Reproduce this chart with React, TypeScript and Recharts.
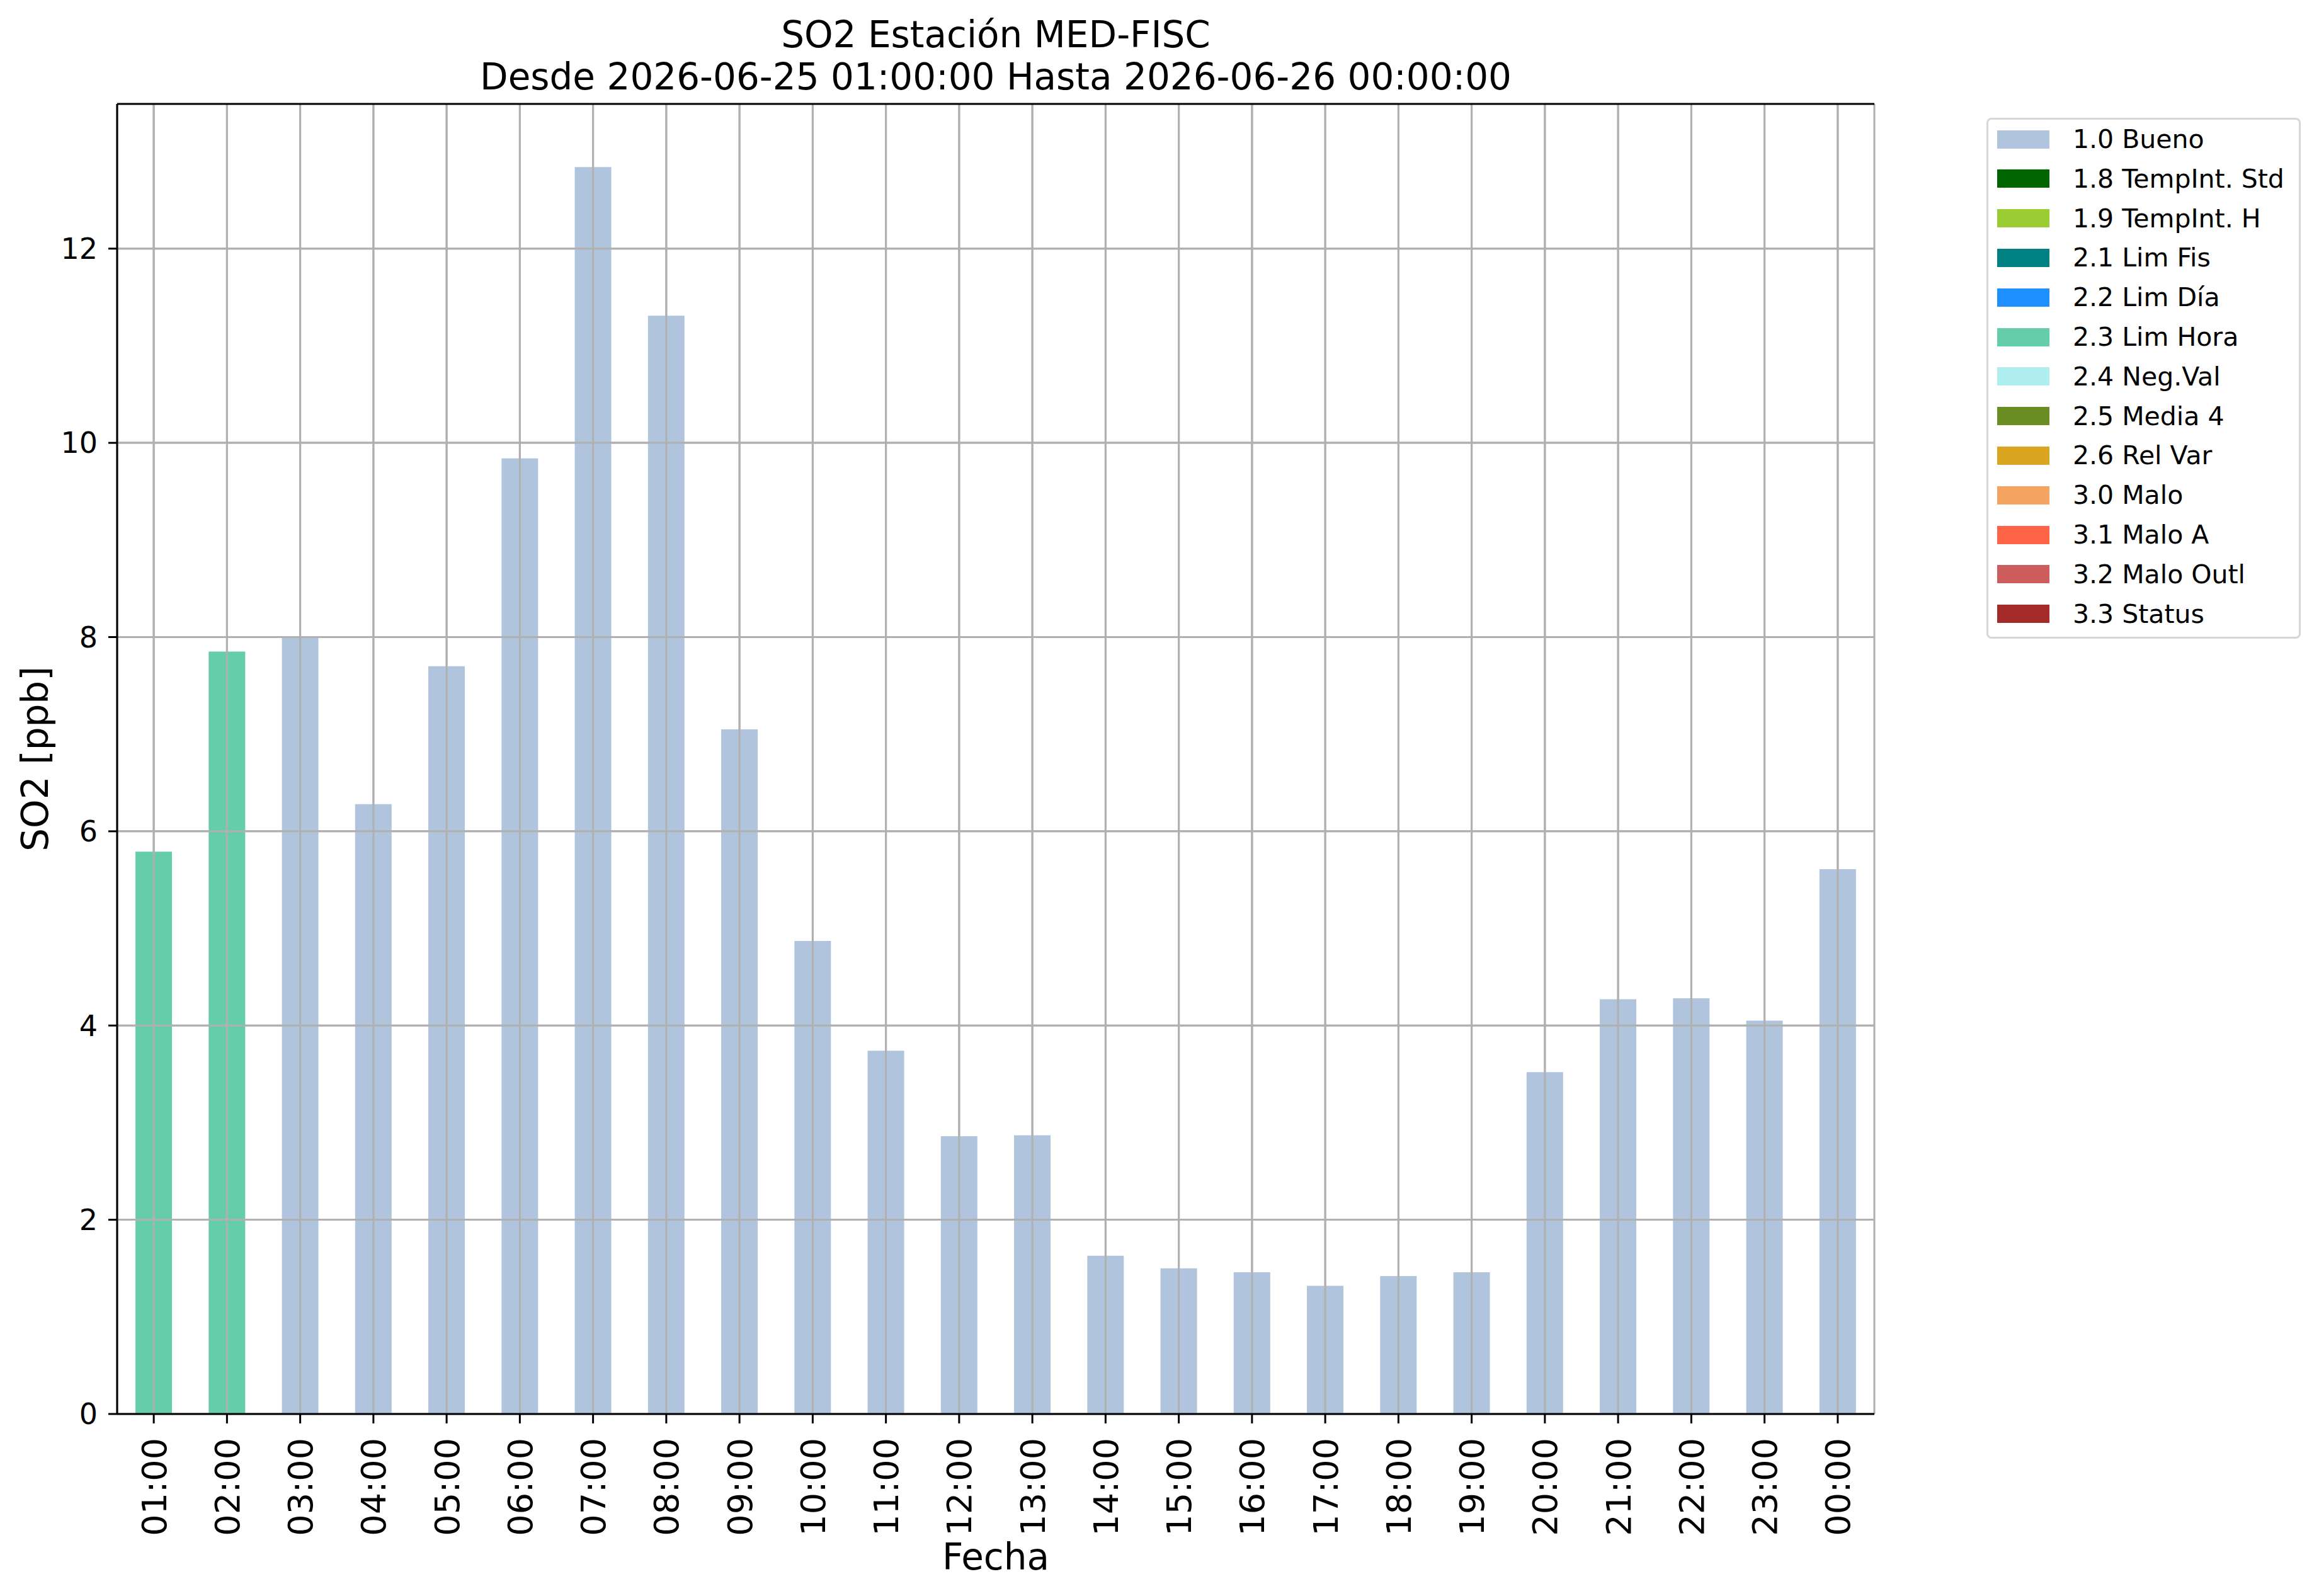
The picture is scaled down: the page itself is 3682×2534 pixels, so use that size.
import { Bar, BarChart, CartesianGrid, Legend, ReferenceLine, XAxis, YAxis } from 'recharts';

const HOURS = [
  '01:00', '02:00', '03:00', '04:00', '05:00', '06:00', '07:00', '08:00',
  '09:00', '10:00', '11:00', '12:00', '13:00', '14:00', '15:00', '16:00',
  '17:00', '18:00', '19:00', '20:00', '21:00', '22:00', '23:00', '00:00',
];

const SO2_PPB = [
  5.79, 7.85, 8.0, 6.28, 7.7, 9.84, 12.84, 11.31,
  7.05, 4.87, 3.74, 2.86, 2.87, 1.63, 1.5, 1.46,
  1.32, 1.42, 1.46, 3.52, 4.27, 4.28, 4.05, 5.61,
];

// quality flag of each hour
const HOUR_FLAGS = [
  '2.3', '2.3', '1.0', '1.0', '1.0', '1.0', '1.0', '1.0',
  '1.0', '1.0', '1.0', '1.0', '1.0', '1.0', '1.0', '1.0',
  '1.0', '1.0', '1.0', '1.0', '1.0', '1.0', '1.0', '1.0',
];

const FLAG_CODES = ['1.0', '1.8', '1.9', '2.1', '2.2', '2.3', '2.4', '2.5', '2.6', '3.0', '3.1', '3.2', '3.3'];
const FLAG_NAMES = [
  '1.0 Bueno', '1.8 TempInt. Std', '1.9 TempInt. H', '2.1 Lim Fis', '2.2 Lim Día',
  '2.3 Lim Hora', '2.4 Neg.Val', '2.5 Media 4', '2.6 Rel Var', '3.0 Malo',
  '3.1 Malo A', '3.2 Malo Outl', '3.3 Status',
];
const FLAG_COLORS = [
  '#b0c4de', '#006400', '#9acd32', '#008080', '#1e90ff', '#66cdaa', '#afeeee',
  '#6b8e23', '#daa520', '#f4a460', '#ff6347', '#cd5c5c', '#a52a2a',
];

const Y_TICKS = [0, 2, 4, 6, 8, 10, 12];
const Y_MAX = 13.49;

const data = HOURS.map((hour, i) => ({
  hour,
  [HOUR_FLAGS[i]]: SO2_PPB[i],
}));

const FONT = '"DejaVu Sans", sans-serif';
const GRID = '#b0b0b0';

function HourTick(props: any) {
  const { x, y, payload } = props;
  const ty = y + 23;
  return (
    <text
      x={x}
      y={ty}
      transform={`rotate(-90, ${x}, ${ty})`}
      textAnchor="end"
      dy="0.36em"
      fontSize={54}
      fontFamily={FONT}
      fill="#000"
    >
      {payload.value}
    </text>
  );
}

function FlagLegend(props: any) {
  const items = props.payload || [];
  return (
    <div
      style={{
        width: 499,
        height: 827,
        boxSizing: 'border-box',
        border: '3px solid #d6d6d6',
        borderRadius: 8,
        background: '#fff',
        position: 'relative',
        fontFamily: FONT,
      }}
    >
      {items.map((item: any, i: number) => (
        <div
          key={item.value}
          style={{ position: 'absolute', left: 14, top: 31 + i * 62.8 - 15, height: 30, display: 'flex', alignItems: 'center' }}
        >
          <div style={{ width: 83, height: 29, background: item.color }} />
          <span style={{ marginLeft: 37, fontSize: 41, color: '#000', whiteSpace: 'nowrap', lineHeight: '30px' }}>
            {item.value}
          </span>
        </div>
      ))}
    </div>
  );
}

export default function App() {
  return (
    <div style={{ position: 'absolute', left: 0, top: 0, width: 3682, height: 2534, background: '#fff' }}>
      <BarChart
        width={3682}
        height={2534}
        data={data}
        margin={{ top: 165, right: 706, bottom: 0, left: 0 }}
        barCategoryGap="25%"
      >
        <CartesianGrid stroke={GRID} strokeWidth={3} horizontalValues={Y_TICKS} fill="none" />
        <XAxis
          dataKey="hour"
          height={289}
          interval={0}
          tick={<HourTick />}
          tickSize={15}
          tickMargin={0}
          tickLine={{ stroke: '#000', strokeWidth: 3 }}
          axisLine={{ stroke: '#000', strokeWidth: 3 }}
        />
        <YAxis
          type="number"
          domain={[0, Y_MAX]}
          ticks={Y_TICKS}
          allowDataOverflow
          width={186}
          tickSize={14}
          tickMargin={17}
          tick={{ fontSize: 46, fontFamily: FONT, fill: '#000' }}
          tickLine={{ stroke: '#000', strokeWidth: 3 }}
          axisLine={{ stroke: '#000', strokeWidth: 3 }}
        />
        <YAxis yAxisId="right" orientation="right" width={0} tick={false} tickLine={false} domain={[0, Y_MAX]} axisLine={{ stroke: '#000', strokeWidth: 3 }} />
        {FLAG_CODES.map((code, i) => (
          <Bar
            key={code}
            dataKey={code}
            name={FLAG_NAMES[i]}
            stackId="flags"
            fill={FLAG_COLORS[i]}
            isAnimationActive={false}
          />
        ))}
        {/* grid on top of the bars, as in the original */}
        {HOURS.map((h) => (
          <ReferenceLine key={`gx-${h}`} x={h} stroke={GRID} strokeWidth={3} />
        ))}
        {Y_TICKS.filter((t) => t > 0).map((t) => (
          <ReferenceLine key={`gy-${t}`} y={t} stroke={GRID} strokeWidth={3} />
        ))}
        <ReferenceLine y={Y_MAX} stroke="#000" strokeWidth={3} />
        <Legend
          layout="vertical"
          align="center"
          verticalAlign="middle"
          content={<FlagLegend />}
          wrapperStyle={{ left: 3154, top: 187, width: 499, height: 827 }}
        />
        <text x={1581} y={75} textAnchor="middle" fontSize={58} fontFamily={FONT} fill="#000">
          SO2 Estación MED-FISC
        </text>
        <text x={1581} y={142} textAnchor="middle" fontSize={58} fontFamily={FONT} fill="#000">
          Desde 2026-06-25 01:00:00 Hasta 2026-06-26 00:00:00
        </text>
        <text x={1581} y={2492} textAnchor="middle" fontSize={58} fontFamily={FONT} fill="#000">
          Fecha
        </text>
        <text
          x={76}
          y={1205}
          transform="rotate(-90, 76, 1205)"
          textAnchor="middle"
          fontSize={58}
          fontFamily={FONT}
          fill="#000"
        >
          SO2 [ppb]
        </text>
      </BarChart>
    </div>
  );
}
